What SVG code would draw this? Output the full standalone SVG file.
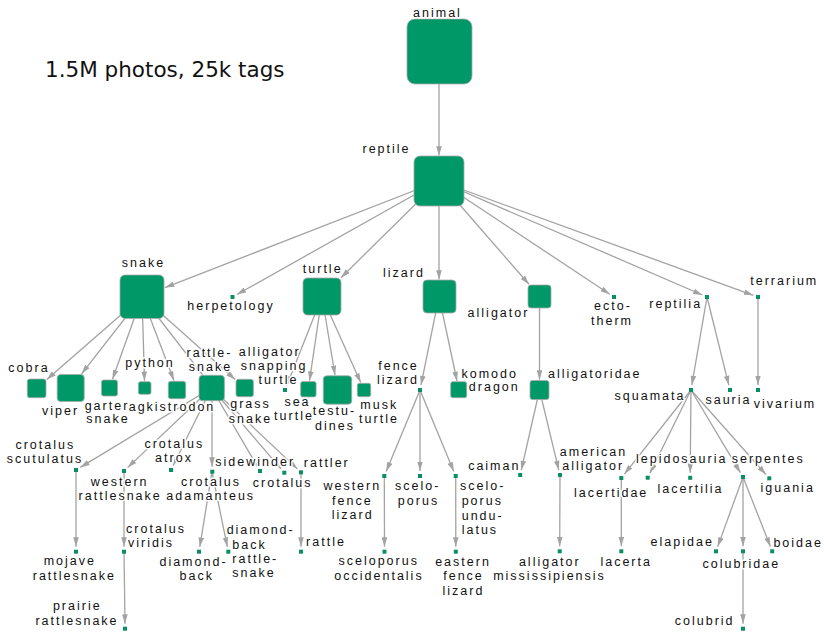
<svg xmlns="http://www.w3.org/2000/svg" width="824" height="633" viewBox="0 0 824 633">
  <defs>
    <style>
      .e { stroke: #a3a3a3; stroke-width: 1.3; fill: none; marker-end: url(#arr); }
      .box { fill: #009866; stroke: #a8a8a8; stroke-width: 0.8; }
      .dot { fill: #0a8f62; }
      .t { font-family: "Liberation Sans", Arial, sans-serif; font-size: 12.5px; letter-spacing: 2px; fill: #111111; text-anchor: middle; stroke: #ffffff; stroke-width: 3; stroke-linejoin: round; paint-order: stroke; }
      .title { font-family: "DejaVu Sans", sans-serif; font-size: 21.5px; fill: #111111; }
    </style>
    <marker id="arr" viewBox="0 0 10 6" refX="10" refY="3" markerWidth="9.5" markerHeight="5.6" markerUnits="userSpaceOnUse" orient="auto">
      <path d="M0,0L10,3L0,6z" fill="#a3a3a3"/>
    </marker>
  </defs>
  <rect width="824" height="633" fill="#ffffff"/>

  <text class="title" x="45" y="77.3">1.5M photos, 25k tags</text>

  <!-- connectors -->
  <g id="edges">
    <line class="e" x1="439" y1="52" x2="439" y2="155.5"/>
    <line class="e" x1="439" y1="181" x2="165" y2="287.6"/>
    <line class="e" x1="439" y1="181" x2="236.9" y2="294.5"/>
    <line class="e" x1="439" y1="181" x2="341" y2="277.7"/>
    <line class="e" x1="439" y1="181" x2="439" y2="279.5"/>
    <line class="e" x1="439" y1="181" x2="529" y2="284.3"/>
    <line class="e" x1="439" y1="181" x2="609.8" y2="294.2"/>
    <line class="e" x1="439" y1="181" x2="702.4" y2="295"/>
    <line class="e" x1="439" y1="181" x2="753.3" y2="295.3"/>

    <line class="e" x1="142" y1="296.5" x2="46.8" y2="379.5"/>
    <line class="e" x1="142" y1="296.5" x2="81.6" y2="373.8"/>
    <line class="e" x1="142" y1="296.5" x2="112.5" y2="379.2"/>
    <line class="e" x1="142" y1="296.5" x2="144.5" y2="380.9"/>
    <line class="e" x1="142" y1="296.5" x2="173.9" y2="380.5"/>
    <line class="e" x1="142" y1="296.5" x2="202.5" y2="374.6"/>
    <line class="e" x1="142" y1="296.5" x2="235.2" y2="379.5"/>

    <line class="e" x1="322" y1="296.5" x2="286.8" y2="385.4"/>
    <line class="e" x1="322" y1="296.5" x2="309.5" y2="380.7"/>
    <line class="e" x1="322" y1="296.5" x2="335" y2="375"/>
    <line class="e" x1="322" y1="296.5" x2="360.7" y2="382.6"/>

    <line class="e" x1="439" y1="296.5" x2="421" y2="385.1"/>
    <line class="e" x1="439" y1="296.5" x2="457" y2="381"/>

    <line class="e" x1="539.5" y1="296.5" x2="539.5" y2="379.7"/>

    <line class="e" x1="707" y1="297" x2="691.8" y2="385.1"/>
    <line class="e" x1="707" y1="297" x2="728.8" y2="385.1"/>
    <line class="e" x1="758" y1="297" x2="758" y2="385"/>

    <line class="e" x1="211.5" y1="388" x2="80.3" y2="467.4"/>
    <line class="e" x1="211.5" y1="388" x2="127.6" y2="467.6"/>
    <line class="e" x1="211.5" y1="388" x2="173.2" y2="465.5"/>
    <line class="e" x1="212" y1="388" x2="212" y2="466.7"/>
    <line class="e" x1="211.5" y1="388" x2="257.5" y2="466.7"/>
    <line class="e" x1="211.5" y1="388" x2="281" y2="468.9"/>
    <line class="e" x1="211.5" y1="388" x2="297.4" y2="468.9"/>

    <line class="e" x1="76" y1="470" x2="76" y2="546.7"/>
    <line class="e" x1="124" y1="471" x2="124" y2="546.7"/>
    <line class="e" x1="124" y1="551.7" x2="125" y2="623.7"/>
    <line class="e" x1="212" y1="471.7" x2="199.8" y2="546.8"/>
    <line class="e" x1="212" y1="471.7" x2="227.3" y2="546.8"/>
    <line class="e" x1="301" y1="472.3" x2="301" y2="546.7"/>

    <line class="e" x1="420" y1="390" x2="386.2" y2="471.4"/>
    <line class="e" x1="420" y1="390" x2="420" y2="471"/>
    <line class="e" x1="420" y1="390" x2="453.8" y2="471.4"/>
    <line class="e" x1="384.3" y1="476" x2="384.5" y2="546.7"/>
    <line class="e" x1="455.7" y1="476" x2="455.8" y2="546.7"/>

    <line class="e" x1="539.5" y1="390" x2="521.3" y2="470.1"/>
    <line class="e" x1="539.5" y1="390" x2="558.8" y2="470.1"/>
    <line class="e" x1="560" y1="475" x2="559.7" y2="546.3"/>

    <line class="e" x1="691" y1="390" x2="624.4" y2="474.1"/>
    <line class="e" x1="691" y1="390" x2="649.9" y2="473.2"/>
    <line class="e" x1="691" y1="390" x2="690.2" y2="472.8"/>
    <line class="e" x1="691" y1="390" x2="740.4" y2="472.7"/>
    <line class="e" x1="691" y1="390" x2="766" y2="474.6"/>
    <line class="e" x1="621.3" y1="478" x2="621.3" y2="546.3"/>
    <line class="e" x1="743" y1="477" x2="717.7" y2="546.6"/>
    <line class="e" x1="743" y1="477" x2="743" y2="546.3"/>
    <line class="e" x1="743" y1="477" x2="770.4" y2="546.6"/>
    <line class="e" x1="743" y1="551.3" x2="743" y2="623.7"/>
  </g>

  <!-- nodes -->
  <g id="animal"><rect class="box" x="407" y="19" width="65" height="65" rx="8"/><text class="t" x="437.5" y="16.5">animal</text></g>
  <g id="reptile"><rect class="box" x="414" y="156" width="50" height="50" rx="6"/><text class="t" x="386.5" y="153">reptile</text></g>

  <g id="snake"><rect class="box" x="120" y="275" width="44" height="43.5" rx="5"/><text class="t" x="143.5" y="266.5">snake</text></g>
  <g id="herpetology"><rect class="dot" x="230.5" y="295" width="4" height="4"/><text class="t" x="231" y="310">herpetology</text></g>
  <g id="turtle"><rect class="box" x="303" y="278" width="38" height="37" rx="4.5"/><text class="t" x="322.7" y="272.5">turtle</text></g>
  <g id="lizard"><rect class="box" x="423" y="280" width="33" height="33" rx="4"/><text class="t" x="404" y="276.5">lizard</text></g>
  <g id="alligator"><rect class="box" x="528" y="285" width="23" height="23" rx="3"/><text class="t" x="498.5" y="317">alligator</text></g>
  <g id="ectotherm"><rect class="dot" x="612" y="295" width="4" height="4"/><text class="t" x="613" y="310">ecto-</text><text class="t" x="612" y="324.5">therm</text></g>
  <g id="reptilia"><rect class="dot" x="705" y="295" width="4" height="4"/><text class="t" x="675.7" y="308">reptilia</text></g>
  <g id="terrarium"><rect class="dot" x="756" y="295" width="4" height="4"/><text class="t" x="784.3" y="285">terrarium</text></g>

  <g id="cobra"><rect class="box" x="27.3" y="379" width="18.7" height="18.7" rx="2.5"/><text class="t" x="29" y="371.5">cobra</text></g>
  <g id="viper"><rect class="box" x="57.2" y="374.5" width="27" height="27" rx="3.5"/><text class="t" x="60.5" y="415">viper</text></g>
  <g id="garter-snake"><rect class="box" x="101.5" y="380" width="16" height="16" rx="2"/><text class="t" x="107" y="410">garter</text><text class="t" x="108" y="423">snake</text></g>
  <g id="python"><rect class="box" x="138.4" y="381.7" width="12.6" height="12.6" rx="2"/><text class="t" x="150" y="367">python</text></g>
  <g id="agkistrodon"><rect class="box" x="168.3" y="381.3" width="17.4" height="17.4" rx="2.5"/><text class="t" x="172" y="411">agkistrodon</text></g>
  <g id="rattlesnake"><rect class="box" x="199" y="375.3" width="25.4" height="25.4" rx="3.5"/><text class="t" x="209.5" y="356.5">rattle-</text><text class="t" x="210.5" y="370.5">snake</text></g>
  <g id="grass-snake"><rect class="box" x="236" y="379.3" width="17.4" height="17.4" rx="2.5"/><text class="t" x="250.5" y="408">grass</text><text class="t" x="250.5" y="422.5">snake</text></g>
  <g id="alligator-snapping-turtle"><rect class="dot" x="283" y="388" width="4" height="4"/><text class="t" x="269.7" y="356">alligator</text><text class="t" x="274" y="370">snapping</text><text class="t" x="278.5" y="384">turtle</text></g>

  <g id="sea-turtle"><rect class="box" x="300.7" y="381.5" width="15.4" height="15.4" rx="2"/><text class="t" x="297.5" y="406">sea</text><text class="t" x="294" y="419.5">turtle</text></g>
  <g id="testudines"><rect class="box" x="323.3" y="375.8" width="28.4" height="28.4" rx="3.5"/><text class="t" x="334.5" y="414.5">testu-</text><text class="t" x="335" y="429.5">dines</text></g>
  <g id="musk-turtle"><rect class="box" x="357.3" y="383.3" width="13.4" height="13.4" rx="2"/><text class="t" x="379.3" y="408.5">musk</text><text class="t" x="379" y="423">turtle</text></g>

  <g id="fence-lizard"><rect class="dot" x="418" y="388" width="4" height="4"/><text class="t" x="398.5" y="369.5">fence</text><text class="t" x="398" y="384">lizard</text></g>
  <g id="komodo-dragon"><rect class="box" x="450.7" y="381.7" width="16" height="16" rx="2"/><text class="t" x="489.7" y="377.5">komodo</text><text class="t" x="494.3" y="391">dragon</text></g>
  <g id="alligatoridae"><rect class="box" x="530" y="380.5" width="19" height="19" rx="2.5"/><text class="t" x="594.8" y="377.5">alligatoridae</text></g>
  <g id="squamata"><rect class="dot" x="689" y="388" width="4" height="4"/><text class="t" x="650" y="399.5">squamata</text></g>
  <g id="sauria"><rect class="dot" x="728" y="388" width="4" height="4"/><text class="t" x="728.5" y="403.5">sauria</text></g>
  <g id="vivarium"><rect class="dot" x="756" y="388" width="4" height="4"/><text class="t" x="785" y="408">vivarium</text></g>

  <g id="crotalus-scutulatus"><rect class="dot" x="74" y="468" width="4" height="4"/><text class="t" x="45.3" y="448.5">crotalus</text><text class="t" x="45" y="462.5">scutulatus</text></g>
  <g id="western-rattlesnake"><rect class="dot" x="122" y="469" width="4" height="4"/><text class="t" x="119.7" y="485.5">western</text><text class="t" x="120.2" y="500">rattlesnake</text></g>
  <g id="crotalus-atrox"><rect class="dot" x="169" y="468" width="4" height="4"/><text class="t" x="174.3" y="448">crotalus</text><text class="t" x="174" y="462">atrox</text></g>
  <g id="crotalus-adamanteus"><rect class="dot" x="210.3" y="469.7" width="4" height="4"/><text class="t" x="211" y="485.5">crotalus</text><text class="t" x="210.7" y="500">adamanteus</text></g>
  <g id="sidewinder"><rect class="dot" x="258" y="469" width="4" height="4"/><text class="t" x="255.2" y="466.3">sidewinder</text></g>
  <g id="crotalus"><rect class="dot" x="282.3" y="470.7" width="4" height="4"/><text class="t" x="282.7" y="487">crotalus</text></g>
  <g id="rattler"><rect class="dot" x="299" y="470.3" width="4" height="4"/><text class="t" x="326.8" y="467">rattler</text></g>

  <g id="mojave-rattlesnake"><rect class="dot" x="74" y="549.7" width="4" height="4"/><text class="t" x="69.8" y="565">mojave</text><text class="t" x="74.3" y="579.5">rattlesnake</text></g>
  <g id="crotalus-viridis"><rect class="dot" x="122" y="549.7" width="4" height="4"/><text class="t" x="156" y="532.5">crotalus</text><text class="t" x="151" y="546.5">viridis</text></g>
  <g id="prairie-rattlesnake"><rect class="dot" x="123" y="626.7" width="4" height="4"/><text class="t" x="77.3" y="610">prairie</text><text class="t" x="77" y="624.5">rattlesnake</text></g>
  <g id="diamondback"><rect class="dot" x="197" y="549.7" width="4" height="4"/><text class="t" x="193.5" y="565.5">diamond-</text><text class="t" x="196.8" y="580">back</text></g>
  <g id="diamondback-rattlesnake"><rect class="dot" x="226.3" y="549.7" width="4" height="4"/><text class="t" x="260.7" y="534">diamond-</text><text class="t" x="249.5" y="548.5">back</text><text class="t" x="255.3" y="562.5">rattle-</text><text class="t" x="254" y="577">snake</text></g>
  <g id="rattle"><rect class="dot" x="299" y="549.7" width="4" height="4"/><text class="t" x="326" y="546">rattle</text></g>

  <g id="western-fence-lizard"><rect class="dot" x="382.3" y="474" width="4" height="4"/><text class="t" x="352.3" y="490">western</text><text class="t" x="352.3" y="504.5">fence</text><text class="t" x="352.7" y="519">lizard</text></g>
  <g id="sceloporus"><rect class="dot" x="418" y="474" width="4" height="4"/><text class="t" x="417.7" y="490">scelo-</text><text class="t" x="418.5" y="504.5">porus</text></g>
  <g id="sceloporus-undulatus"><rect class="dot" x="453.7" y="474" width="4" height="4"/><text class="t" x="482.7" y="490">scelo-</text><text class="t" x="482.3" y="504.5">porus</text><text class="t" x="482.7" y="519.5">undu-</text><text class="t" x="479.9" y="534">latus</text></g>
  <g id="sceloporus-occidentalis"><rect class="dot" x="382.5" y="549.7" width="4" height="4"/><text class="t" x="378.7" y="565">sceloporus</text><text class="t" x="379" y="580">occidentalis</text></g>
  <g id="eastern-fence-lizard"><rect class="dot" x="453.8" y="549.7" width="4" height="4"/><text class="t" x="463" y="565.5">eastern</text><text class="t" x="463.5" y="580">fence</text><text class="t" x="463.5" y="594.5">lizard</text></g>

  <g id="caiman"><rect class="dot" x="518.2" y="473" width="4" height="4"/><text class="t" x="494.3" y="470">caiman</text></g>
  <g id="american-alligator"><rect class="dot" x="558" y="473" width="4" height="4"/><text class="t" x="593.5" y="455.5">american</text><text class="t" x="593.2" y="469.5">alligator</text></g>
  <g id="alligator-mississipiensis"><rect class="dot" x="557.7" y="549.3" width="4" height="4"/><text class="t" x="549.8" y="565.5">alligator</text><text class="t" x="549.5" y="579.5">mississipiensis</text></g>

  <g id="lacertidae"><rect class="dot" x="619.3" y="476" width="4" height="4"/><text class="t" x="611.2" y="497">lacertidae</text></g>
  <g id="lepidosauria"><rect class="dot" x="645.7" y="475.7" width="4" height="4"/><text class="t" x="681.7" y="462.5">lepidosauria</text></g>
  <g id="lacertilia"><rect class="dot" x="688.2" y="475.8" width="4" height="4"/><text class="t" x="690.5" y="492.5">lacertilia</text></g>
  <g id="serpentes"><rect class="dot" x="741" y="475" width="4" height="4"/><text class="t" x="768.2" y="462.5">serpentes</text></g>
  <g id="iguania"><rect class="dot" x="767.3" y="476.3" width="4" height="4"/><text class="t" x="787.7" y="491.5">iguania</text></g>
  <g id="lacerta"><rect class="dot" x="619.3" y="549.3" width="4" height="4"/><text class="t" x="626.2" y="565.5">lacerta</text></g>
  <g id="elapidae"><rect class="dot" x="714" y="549.3" width="4" height="4"/><text class="t" x="682.2" y="546">elapidae</text></g>
  <g id="colubridae"><rect class="dot" x="741" y="549.3" width="4" height="4"/><text class="t" x="741.3" y="567.5">colubridae</text></g>
  <g id="boidae"><rect class="dot" x="770.2" y="549.3" width="4" height="4"/><text class="t" x="798.2" y="546.5">boidae</text></g>
  <g id="colubrid"><rect class="dot" x="741" y="626.7" width="4" height="4"/><text class="t" x="704.7" y="625">colubrid</text></g>
</svg>
